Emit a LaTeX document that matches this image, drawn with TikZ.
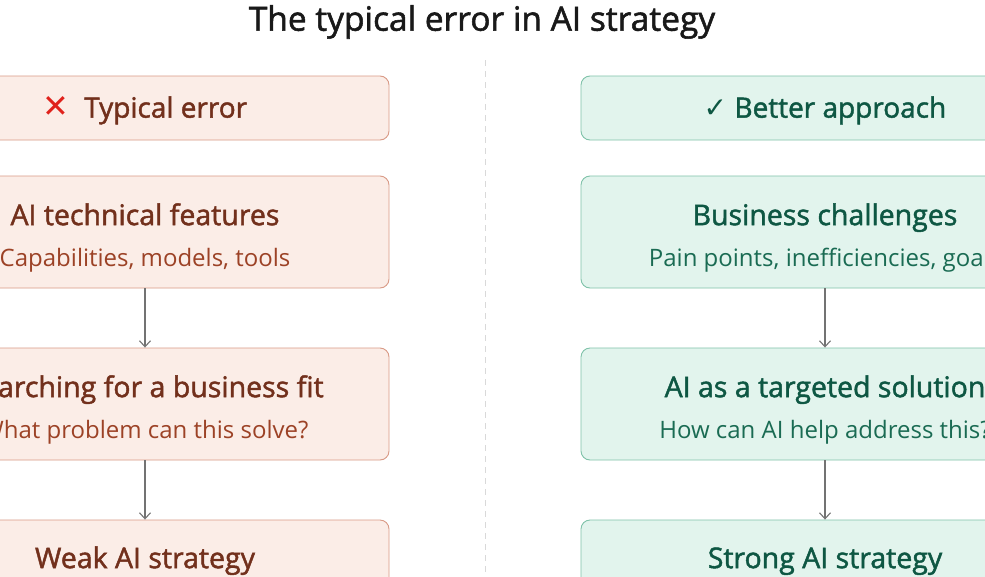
\documentclass[tikz,border=0pt]{standalone}
\usepackage{fontspec}
\setmainfont{Open Sans}
\newfontfamily\medfont[FakeBold=1.6]{Open Sans}
\newfontfamily\symfont{DejaVu Sans}
\usetikzlibrary{arrows.meta}
\definecolor{badfill}{HTML}{FBEDE7}
\definecolor{baddraw}{HTML}{D99A86}
\definecolor{badtext}{HTML}{72301C}
\definecolor{badsub}{HTML}{9C4226}
\definecolor{goodfill}{HTML}{E2F4ED}
\definecolor{gooddraw}{HTML}{7FC2A9}
\definecolor{goodtext}{HTML}{0E5743}
\definecolor{goodsub}{HTML}{1A6B53}
\definecolor{crossred}{HTML}{E0221C}
\tikzset{
  box/.style={rounded corners=9pt, line width=0.9pt, minimum width=488pt, align=center},
  bad/.style={box, fill=badfill, draw=baddraw, text=badtext},
  good/.style={box, fill=goodfill, draw=gooddraw, text=goodtext},
  head/.style={minimum height=64pt, font=\medfont\fontsize{28}{30}\selectfont},
  stage/.style={minimum height=112pt, font=\medfont\fontsize{28.5}{41}\selectfont},
  flow/.style={-{Straight Barb[length=6pt,width=11pt]}, draw=black!55, line width=1.1pt}
}
\newcommand{\sublabel}[2]{{\color{#1}\normalfont\fontsize{24}{26}\selectfont #2}}
\newcommand{\toplift}{\rule{0pt}{33pt}}
\newcommand{\headlift}{\rule{0pt}{26pt}}
\begin{document}
\begin{tikzpicture}[x=1pt, y=-1pt]
  \useasboundingbox (0,0) rectangle (985,576);
  \clip (0,0) rectangle (985,576);
  \fill[white] (0,0) rectangle (985,576);

  % TITLE
  \node[font=\medfont\fontsize{33.5}{36}\selectfont, text=black!90] (title) at (482,22) {The typical error in AI strategy};

  % DIVIDER
  \draw[black!15, dash pattern=on 6pt off 5pt, line width=0.8pt] (485,60) -- (485,576);

  % LEFT COLUMN
  \node[bad, head] (bad_head) at (145,108) {\headlift{\symfont\bfseries\fontsize{32}{30}\selectfont\textcolor{crossred}{✕}}\ \ Typical error};
  \node[bad, stage] (bad_tech) at (145,232) {\toplift AI technical features\\\sublabel{badsub}{Capabilities, models, tools}};
  \node[bad, stage] (bad_fit) at (145,404) {\toplift Searching for a business fit\\\sublabel{badsub}{What problem can this solve?}};
  \node[bad, stage] (bad_weak) at (145,576) {\toplift Weak AI strategy\\\sublabel{badsub}{\strut}};

  % RIGHT COLUMN
  \node[good, head] (good_head) at (825,108) {\headlift{\symfont\bfseries ✓} Better approach};
  \node[good, stage] (good_biz) at (825,232) {\toplift Business challenges\\\sublabel{goodsub}{Pain points, inefficiencies, goals}};
  \node[good, stage] (good_ai) at (825,404) {\toplift AI as a targeted solution\\\sublabel{goodsub}{How can AI help address this?}};
  \node[good, stage] (good_strong) at (825,576) {\toplift Strong AI strategy\\\sublabel{goodsub}{\strut}};

  % EDGES
  \draw[flow] (bad_tech) -- (bad_fit);
  \draw[flow] (bad_fit) -- (bad_weak);
  \draw[flow] (good_biz) -- (good_ai);
  \draw[flow] (good_ai) -- (good_strong);
\end{tikzpicture}
\end{document}
